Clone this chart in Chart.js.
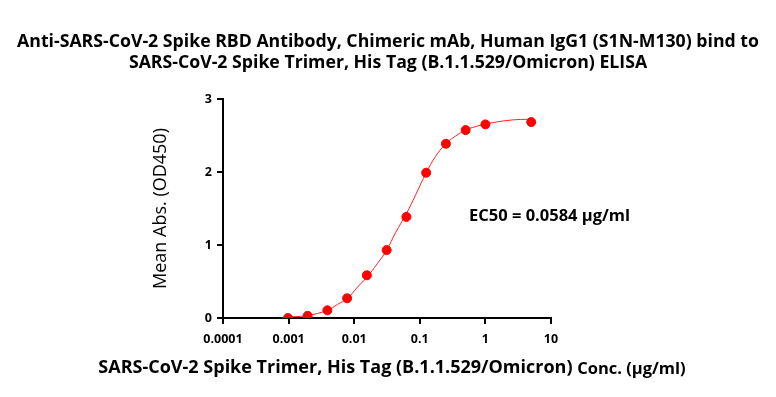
<!DOCTYPE html>
<html>
<head>
<meta charset="utf-8">
<script src="https://cdn.jsdelivr.net/npm/chart.js@4.4.1/dist/chart.umd.min.js"></script>
<style>
  html, body { margin: 0; padding: 0; background: #fff; }
  #wrap { width: 776px; height: 397px; position: relative; }
</style>
</head>
<body>
<div id="wrap"><canvas id="elisa-chart"></canvas></div>
<script>
// measured points (conc. in ug/ml, mean OD450)
const concX = [0.000977, 0.00195, 0.0039, 0.0078, 0.0156, 0.03125, 0.0625, 0.125, 0.25, 0.5, 1, 5];
const meanOD = [0.00, 0.03, 0.105, 0.27, 0.585, 0.93, 1.385, 1.99, 2.387, 2.574, 2.652, 2.684];

// fitted curve
const curveX = [0.00098, 0.00195, 0.0039, 0.0056, 0.0078, 0.0113, 0.0156, 0.0226, 0.03125, 0.0428, 0.0625,
                0.0861, 0.125, 0.173, 0.25, 0.348, 0.5, 0.698, 1.0, 2.37, 5.05];
const curveY = [0.012, 0.035, 0.105, 0.188, 0.266, 0.425, 0.56, 0.746, 0.93, 1.17, 1.43,
                1.683, 1.99, 2.21, 2.39, 2.49, 2.575, 2.62, 2.657, 2.71, 2.725];

const xTicks = [0.0001, 0.001, 0.01, 0.1, 1, 10];
const xTickLabels = ['0.0001', '0.001', '0.01', '0.1', '1', '10'];
const yTicks = [0, 1, 2, 3];

const titleLines = [
  'Anti-SARS-CoV-2 Spike RBD Antibody, Chimeric mAb, Human IgG1 (S1N-M130) bind to',
  'SARS-CoV-2 Spike Trimer, His Tag (B.1.1.529/Omicron) ELISA'
];
const xTitleMain = 'SARS-CoV-2 Spike Trimer, His Tag (B.1.1.529/Omicron) ';
const xTitleUnit = 'Conc. (µg/ml)';
const ec50Text = 'EC50 = 0.0584 µg/ml';

const FONT = '"Open Sans", Roboto, sans-serif';

// titles, x axis title and EC50 label
const textPlugin = {
  id: 'texts',
  afterDraw(chart) {
    const ctx = chart.ctx;
    const area = chart.chartArea;
    ctx.save();
    ctx.fillStyle = '#000';
    ctx.textBaseline = 'middle';
    ctx.textAlign = 'center';
    ctx.font = 'bold 17.7px ' + FONT;
    ctx.fillText(titleLines[0], 388, 42);
    ctx.fillText(titleLines[1], 388, 63);

    // x axis title with smaller unit part
    ctx.textAlign = 'left';
    ctx.font = 'bold 18px ' + FONT;
    const w1 = ctx.measureText(xTitleMain).width;
    ctx.font = 'bold 16.5px ' + FONT;
    const w2 = ctx.measureText(xTitleUnit).width;
    let x0 = 392 - (w1 + w2) / 2;
    ctx.font = 'bold 18px ' + FONT;
    ctx.fillText(xTitleMain, x0, 368);
    ctx.font = 'bold 16.5px ' + FONT;
    ctx.fillText(xTitleUnit, x0 + w1, 369);

    ctx.font = 'bold 16.5px ' + FONT;
    ctx.fillText(ec50Text, area.left + 246, 216);
    ctx.restore();
  }
};

new Chart(document.getElementById('elisa-chart'), {
  type: 'scatter',
  data: {
    datasets: [
      {
        label: 'fit',
        data: curveX.map((x, i) => ({ x: x, y: curveY[i] })),
        showLine: true,
        borderColor: '#ff2020',
        borderWidth: 1,
        pointRadius: 0,
        tension: 0.4,
        order: 2,
      },
      {
        label: 'Mean OD450',
        data: concX.map((x, i) => ({ x: x, y: meanOD[i] })),
        backgroundColor: '#ff0000',
        borderColor: '#ff0000',
        pointRadius: 4.5,
        order: 1,
      },
    ],
  },
  options: {
    responsive: true,
    maintainAspectRatio: false,
    animation: false,
    layout: { padding: { top: 99, left: 150, right: 225, bottom: 0 } },
    plugins: {
      legend: { display: false },
      tooltip: { enabled: false },
    },
    scales: {
      x: {
        type: 'logarithmic',
        min: 0.0001,
        max: 10,
        afterBuildTicks: (scale) => { scale.ticks = xTicks.map(v => ({ value: v })); },
        afterFit: (scale) => { scale.height = 79; },
        ticks: {
          callback: (v) => xTickLabels[xTicks.indexOf(v)],
          color: '#000',
          font: { family: FONT, size: 12.5, weight: 'bold' },
          padding: 8,
          maxRotation: 0,
          autoSkip: false,
        },
        grid: { drawOnChartArea: false, drawTicks: true, tickLength: 6, color: '#000', lineWidth: 2 },
        border: { display: true, color: '#000', width: 2 },
      },
      y: {
        min: 0,
        max: 3,
        afterBuildTicks: (scale) => { scale.ticks = yTicks.map(v => ({ value: v })); },
        afterFit: (scale) => { scale.width = 73; },
        ticks: {
          color: '#000',
          font: { family: FONT, size: 12.5, weight: 'bold' },
          padding: 5,
        },
        grid: { drawOnChartArea: false, drawTicks: true, tickLength: 6, color: '#000', lineWidth: 2 },
        border: { display: true, color: '#000', width: 2 },
        title: {
          display: true,
          text: 'Mean Abs. (OD450)',
          color: '#000',
          font: { family: FONT, size: 18 },
          padding: { top: 0, bottom: 0 },
        },
      },
    },
  },
  plugins: [textPlugin],
});
</script>
</body>
</html>
